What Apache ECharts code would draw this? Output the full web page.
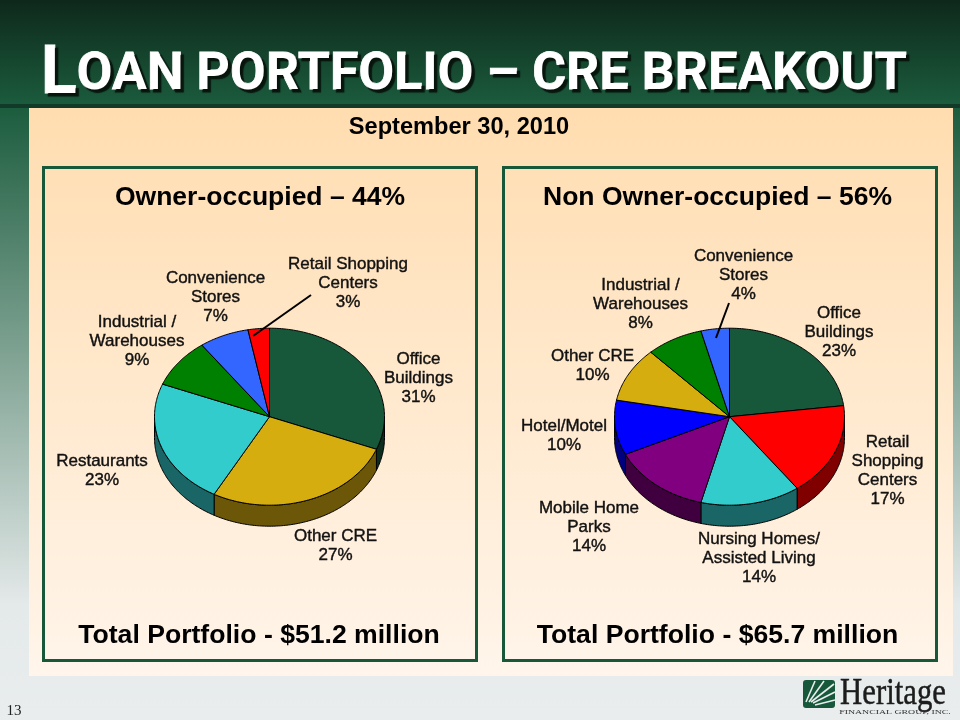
<!DOCTYPE html>
<html><head><meta charset="utf-8">
<style>html,body{margin:0;padding:0;background:#e8eded}#c{width:960px;height:720px}</style>
<script src="https://cdn.jsdelivr.net/npm/echarts@6/dist/echarts.min.js"></script>
</head><body><div id="c"></div>
<script>
// ---- data ----
const ownerCategories = ['Office\nBuildings','Other CRE','Restaurants','Industrial /\nWarehouses','Convenience\nStores','Retail Shopping\nCenters'];
const ownerValues = [31,27,23,9,7,3];
const nonOwnerCategories = ['Office\nBuildings','Retail\nShopping\nCenters','Nursing Homes/\nAssisted Living','Mobile Home\nParks','Hotel/Motel','Other CRE','Industrial /\nWarehouses','Convenience\nStores'];
const nonOwnerValues = [23,17,14,14,10,10,8,4];
const pageTitleFirst = 'L';
const pageTitleRest = 'OAN PORTFOLIO – CRE BREAKOUT';
const dateLabel = 'September 30, 2010';
const ownerTitle = 'Owner-occupied – 44%';
const nonOwnerTitle = 'Non Owner-occupied – 56%';
const ownerTotal = 'Total Portfolio - $51.2 million';
const nonOwnerTotal = 'Total Portfolio - $65.7 million';

// ---- styles and layout ----
const ownerColors = ['#17583B','#D6AD0E','#33CCCC','#008000','#3366FF','#FF0000'];
const nonOwnerColors = ['#17583B','#FF0000','#33CCCC','#800080','#0000FF','#D6AD0E','#008000','#3366FF'];
const ownerLabelPos = [[418.5,378.5],[335.5,545.5],[102,470.5],[137,341.5],[215.5,297.5],[348,283.5]];
const nonOwnerLabelPos = [[839,332.5],[887.5,470.5],[759,558.5],[589,527.5],[564,436],[592.5,366],[640.5,304.5],[743.5,275.5]];
const RX = 115, RY = 88.5, DEPTH = 21;
const LABEL_FONT = '"Liberation Sans", Arial, sans-serif';

function darken(hex){
  const n = parseInt(hex.slice(1),16);
  const f = c => Math.round(c*0.5);
  return `rgb(${f(n>>16&255)},${f(n>>8&255)},${f(n&255)})`;
}
function pt(cx,cy,a,dy){ return [cx+RX*Math.sin(a), cy-RY*Math.cos(a)+(dy||0)]; }

function pieSeries(values, cats, colors, labelPos, cx, cy){
  const total = values.reduce((a,b)=>a+b,0);
  const toAngle = v => v/total*Math.PI*2;
  const starts = []; values.reduce((s,v,i)=>(starts[i]=s,s+v),0);
  const side = {
    type:'custom', coordinateSystem:'none', z:2, silent:true,
    data: values.map(v=>[v]),
    renderItem(params, api){
      const i = params.dataIndex;
      const a0 = Math.max(toAngle(starts[i]), Math.PI/2);
      const a1 = Math.min(toAngle(starts[i]+api.value(0)), Math.PI*1.5);
      if(a1<=a0) return {type:'group',children:[]};
      const up=[],down=[];
      const n = Math.ceil((a1-a0)/0.015);
      for(let k=0;k<=n;k++){
        const a=a0+(a1-a0)*k/n;
        up.push(pt(cx,cy,a)); down.unshift(pt(cx,cy,a,DEPTH));
      }
      return {type:'polygon',shape:{points:up.concat(down)},
        style:{fill:darken(colors[i]),stroke:'#000',lineWidth:1}};
    }
  };
  const top = {
    type:'custom', coordinateSystem:'none', z:3, silent:true,
    data: values.map(v=>[v]),
    renderItem(params, api){
      const i = params.dataIndex, v = api.value(0);
      const a0 = toAngle(starts[i]), a1 = toAngle(starts[i]+v);
      const pts=[[cx,cy]];
      const n = Math.ceil((a1-a0)/0.015);
      for(let k=0;k<=n;k++) pts.push(pt(cx,cy,a0+(a1-a0)*k/n));
      return {type:'group',children:[
        {type:'polygon',shape:{points:pts},style:{fill:colors[i],stroke:'#000',lineWidth:1}},
        {type:'text',x:labelPos[i][0],y:labelPos[i][1],z2:10,
          style:{text:cats[i]+'\n'+v+'%',font:'17px '+LABEL_FONT,fill:'#111',
            stroke:'#111',lineWidth:0.4,align:'center',verticalAlign:'middle',lineHeight:19}}
      ]};
    }
  };
  return [side,top];
}

const bg = [
  {type:'rect',z:-10,shape:{x:0,y:0,width:960,height:720},
   style:{fill:new echarts.graphic.LinearGradient(0,0,0,1,[
     {offset:0,color:'#0E281B'},{offset:0.146,color:'#1B5C3D'},
     {offset:0.84,color:'#E4E9E9'},{offset:1,color:'#E9EDEE'}])}},
  {type:'rect',z:-9,shape:{x:0,y:104,width:960,height:4},style:{fill:'#123A28'}},
  {type:'rect',z:-8,shape:{x:29,y:108,width:924,height:568},
   style:{fill:new echarts.graphic.LinearGradient(0,0,0,1,[
     {offset:0,color:'#FFDDB0'},{offset:1,color:'#FFF5EB'}])}},
  {type:'rect',z:-7,shape:{x:43.5,y:167.5,width:433,height:493},style:{fill:'none',stroke:'#17583B',lineWidth:3}},
  {type:'rect',z:-7,shape:{x:503.5,y:167.5,width:433,height:493},style:{fill:'none',stroke:'#17583B',lineWidth:3}},
  {type:'line',z:20,shape:{x1:253,y1:336,x2:311,y2:295},style:{stroke:'#000',lineWidth:2}},
  {type:'line',z:20,shape:{x1:716,y1:338,x2:729,y2:303},style:{stroke:'#000',lineWidth:2}}
];
function txt(t,x,y,font,extra,el){
  return Object.assign({type:'text',z:5,x,y,style:Object.assign({text:t,font,fill:'#000',align:'center',verticalAlign:'middle'},extra||{})},el||{});
}
const ARIAL='"Liberation Sans", Arial, sans-serif';
const shadow={fill:'#fff',stroke:'#fff',lineWidth:0.8,textShadowColor:'#06140c',textShadowOffsetX:3,textShadowOffsetY:3,textShadowBlur:1};
const texts = [
  {type:'text',z:6,x:41,y:76,style:{
    rich:{a:Object.assign({font:'bold 66px Roboto, sans-serif'},shadow),
          b:Object.assign({font:'bold 52px Roboto, sans-serif'},shadow)},
    text:'{a|'+pageTitleFirst+'}{b|'+pageTitleRest+'}',align:'left',verticalAlign:'middle'}},
  txt(dateLabel,459,127,'bold 23.6px '+ARIAL),
  txt(ownerTitle,260,197.5,'bold 26.5px '+ARIAL),
  txt(nonOwnerTitle,717.5,197.5,'bold 26.5px '+ARIAL),
  txt(ownerTotal,259,635.5,'bold 26.6px '+ARIAL),
  txt(nonOwnerTotal,717.5,635.5,'bold 26.6px '+ARIAL),
  txt('13',14,711,'15px "Liberation Serif", serif',{fill:'#222'})
];
// logo
const ray={stroke:'#E8EDEE',lineWidth:1.6};
const logo = [
  {type:'rect',z:5,shape:{x:803,y:680,width:32,height:28,r:3},style:{fill:'#17583B'}},
  {type:'line',z:6,shape:{x1:806,y1:702,x2:815,y2:681},style:ray},
  {type:'line',z:6,shape:{x1:809,y1:702,x2:824,y2:681},style:ray},
  {type:'line',z:6,shape:{x1:811,y1:702,x2:834,y2:684},style:ray},
  {type:'line',z:6,shape:{x1:813,y1:703,x2:835,y2:692},style:ray},
  {type:'line',z:6,shape:{x1:815,y1:705,x2:835,y2:700},style:ray},
  txt('Heritage',893,694,'38px "Liberation Serif", serif',{fill:'#1c1c1c',stroke:'#1c1c1c',lineWidth:0.5},{scaleX:0.81}),
  txt('FINANCIAL GROUP, INC.',895,712,'7px "Liberation Serif", serif',{fill:'#333'},{scaleX:1.4})
];

const chart = echarts.init(document.getElementById('c'),null,{renderer:'canvas',width:960,height:720});
chart.setOption({
  animation:false,
  backgroundColor:'#e8eded',
  graphic:{elements:bg.concat(texts,logo)},
  series:[
    ...pieSeries(ownerValues,ownerCategories,ownerColors,ownerLabelPos,269.5,416.7),
    ...pieSeries(nonOwnerValues,nonOwnerCategories,nonOwnerColors,nonOwnerLabelPos,729.5,416.7)
  ]
});
</script></body></html>
